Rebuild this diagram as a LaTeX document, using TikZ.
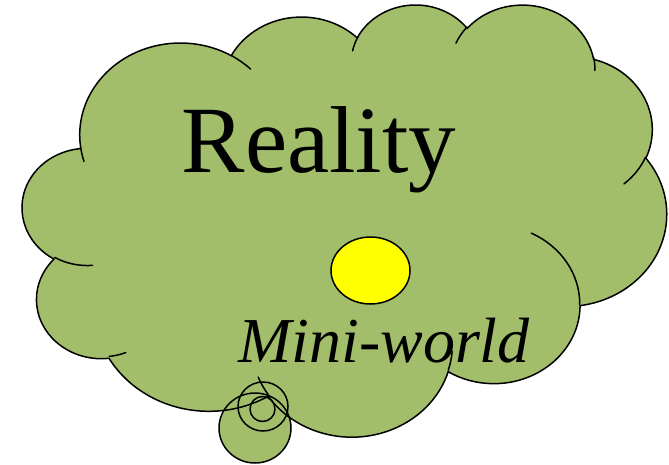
\documentclass[tikz,border=0pt]{standalone}
\usepackage{fontspec}
\setmainfont{Liberation Serif}
\definecolor{cloudgreen}{RGB}{162,190,106}
\definecolor{sunyellow}{RGB}{255,255,0}
\def\SX{1.4907}
\def\SY{1.0}
\newcommand\mkarc[5]{%
  \pgfmathsetmacro\tmpS{atan2((#2)*sin(#4),(#3)*cos(#4))}%
  \pgfmathsetmacro\tmpE{atan2((#2)*sin((#4)+(#5)),(#3)*cos((#4)+(#5)))}%
  \pgfmathsetmacro\tmpD{(\tmpE)-(\tmpS)}%
  \pgfmathsetmacro\tmpD{(\tmpD)+360*((#5)>0)*((\tmpD)<0)-360*((#5)<0)*((\tmpD)>0)}%
  \pgfmathsetmacro\tmpRX{(#2)*\SX}%
  \pgfmathsetmacro\tmpRY{(#3)*\SY}%
  \pgfmathsetmacro\tmpSS{0-(\tmpS)}%
  \pgfmathsetmacro\tmpDD{0-(\tmpD)}%
  \edef\tmpdo{\noexpand\tikzset{#1/.style={x radius=\tmpRX pt,y radius=\tmpRY pt,start angle=\tmpSS,delta angle=\tmpDD}}}%
  \tmpdo}
% outer lobes
\mkarc{lA}{67.53}{91.90}{-190.4875}{123.7805}
\mkarc{lB}{53.33}{72.67}{-144.1024}{89.9452}
\mkarc{lC}{43.65}{59.45}{-145.8079}{99.7230}
\mkarc{lD}{48.57}{65.95}{-130.9861}{117.2417}
\mkarc{lE}{53.33}{72.73}{-78.7089}{109.0269}
\mkarc{lF}{67.75}{92.20}{-46.2673}{130.2690}
\mkarc{lG}{57.85}{78.67}{0.6250}{114.0333}
\mkarc{lH}{67.52}{92.15}{22.4516}{115.1726}
\mkarc{lI}{77.20}{105.43}{66.2426}{75.7110}
\mkarc{lM}{43.60}{59.18}{-274.9421}{146.7356}
\mkarc{lL}{43.45}{59.45}{-246.8285}{152.5189}
% inner strokes
\mkarc{iA}{43.45}{59.45}{86.7420}{26.4295}
\mkarc{iB}{43.60}{59.18}{73.6105}{11.4475}
\mkarc{iC}{67.52}{92.15}{137.6242}{14.0811}
\mkarc{iD}{67.52}{92.15}{6.4533}{15.9984}
\mkarc{iE}{57.85}{78.67}{-70.2924}{70.9174}
\mkarc{iF}{53.33}{72.73}{30.3180}{27.7515}
\mkarc{iG}{48.57}{65.95}{-13.7443}{14.8589}
\mkarc{iH}{48.57}{65.95}{-149.1815}{18.1954}
\mkarc{iI}{43.65}{59.45}{-163.4943}{17.6864}
\mkarc{iJ}{67.53}{91.90}{-66.7070}{12.3194}
\mkarc{iK}{67.53}{91.90}{157.6544}{11.8582}
\tikzset{
  outline/.style={draw=black, line width=1.5pt, line join=round},
}
\begin{document}
\begin{tikzpicture}[x=1pt,y=-1pt]
\useasboundingbox (0,0) rectangle (669,464);
% fills
\begin{scope}[shift={(22.5pt,-3.6pt)},x=1.4907pt,y=-1pt]
  \fill[cloudgreen] (39,143.70) arc[lA] arc[lB] arc[lC] arc[lD] arc[lE] arc[lF]
    arc[lG] arc[lH] arc[lI] arc[lM] arc[lL] -- cycle;
\end{scope}
\fill[cloudgreen] (255,428) ellipse[x radius=36pt, y radius=35pt];
\fill[cloudgreen] (263,406.5) ellipse[x radius=25pt, y radius=24.5pt];
% strokes
\begin{scope}[shift={(22.5pt,-3.6pt)},x=1.4907pt,y=-1pt]
  \path[outline] (39,143.70) arc[lA] arc[lB] arc[lC] arc[lD] arc[lE] arc[lF]
    arc[lG] arc[lH] arc[lI] arc[lM] arc[lL] -- cycle;
  \path[outline, line cap=round]
    (46.93,261.77) arc[iA]
    (69.28,348.99) arc[iB]
    (164.78,390.90) arc[iC]
    (288.27,347.51) arc[iD]
    (341.29,229.54) arc[iE]
    (417.98,153.54) arc[iF]
    (383.24,54.26) arc[iG]
    (290.78,39.52) arc[iH]
    (221.41,47.20) arc[iI]
    (140.00,51.92) arc[iJ]
    (41.27,157.89) arc[iK];
\end{scope}
\path[outline] (255,428) ellipse[x radius=36pt, y radius=35pt];
\path[outline] (263,406.5) ellipse[x radius=25pt, y radius=24.5pt];
\path[outline] (262.5,409) ellipse[x radius=12.5pt, y radius=12.5pt];
% sun
\path[outline, fill=sunyellow] (370.5,270.5) ellipse[x radius=39.5pt, y radius=33.5pt];
% texts
\node[anchor=base west, inner sep=0pt, font=\fontsize{95}{95}\selectfont] (reality) at (181.5,172) {Reality};
\node[anchor=base west, inner sep=0pt, font=\fontsize{64}{64}\selectfont\itshape] (miniworld) at (238,362) {Mini-world};
\end{tikzpicture}
\end{document}
